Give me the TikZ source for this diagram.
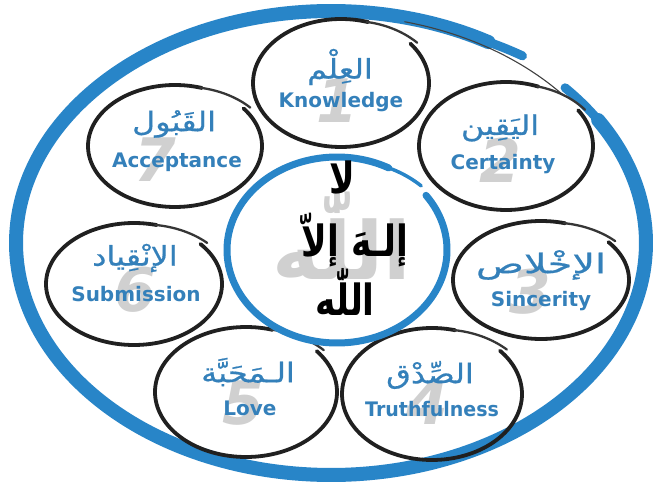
\documentclass[tikz,border=0pt]{standalone}
\usepackage{fontspec}
\TeXXeTstate=1
\newfontfamily\arabicfont[Script=Arabic, FakeStretch=1.18, FakeBold=0.6]{DejaVu Sans}
\newfontfamily\corefont[Script=Arabic, FakeStretch=0.8]{DejaVu Sans}
\newfontfamily\ghostfont[Script=Arabic]{DejaVu Sans}
\newfontfamily\labelfont{DejaVu Sans}
\definecolor{ringblue}{RGB}{40,133,200}
\definecolor{textblue}{RGB}{52,128,186}
\definecolor{numgray}{RGB}{208,208,208}
\definecolor{inkblack}{RGB}{32,32,32}
% cx cy rx ry tailstart tailjoin end flare styleprefix
\newcommand\brushring[9]{%
  \draw[#9 main] plot[domain=#6:#7, samples=120, smooth]
    ({#1+#3*cos(\x)},{#2-#4*sin(\x)});
  \draw[#9 tail] plot[domain=#5:#6+1, samples=25, smooth]
    ({#1+#3*(1+#8*(#6-\x)/(#6-#5))*cos(\x)},{#2-#4*(1+#8*(#6-\x)/(#6-#5))*sin(\x)});
}
\tikzset{
  en/.style={font=\labelfont\bfseries\fontsize{20}{23}\selectfont, text=textblue,
             text height=14.5pt, text depth=4pt, inner sep=0pt},
  ar/.style={font=\arabicfont\fontsize{27}{30}\selectfont, text=textblue, inner sep=0pt},
  num/.style={font=\labelfont\bfseries\itshape\fontsize{60}{60}\selectfont, text=numgray, inner sep=0pt},
  core/.style={font=\corefont\bfseries\fontsize{43}{45}\selectfont, text=black, inner sep=0pt},
  ghost/.style={font=\ghostfont\bfseries\fontsize{80}{80}\selectfont, text=numgray, inner sep=0pt},
  ring main/.style={draw=inkblack, line width=3.8pt, line cap=round},
  ring tail/.style={draw=inkblack!90, line width=2.3pt, line cap=round},
  core main/.style={draw=ringblue, line width=7pt, line cap=round},
  core tail/.style={draw=ringblue, line width=3.5pt, line cap=round},
  outer main/.style={draw=ringblue, line width=14pt, line cap=round},
  outer tail/.style={draw=ringblue, line width=9pt, line cap=round},
  thinline/.style={draw=inkblack!85, line width=1.1pt, line cap=round}
}
\begin{document}
\begin{tikzpicture}[x=1pt, y=-1pt]
\useasboundingbox (0,0) rectangle (661,497);
\fill[white] (0,0) rectangle (661,497);
% outer ring
\brushring{331}{243}{315}{232}{53}{60}{392}{0.01}{outer}
\draw[outer tail] plot[domain=391:402, samples=15, smooth] ({331+315*cos(\x)},{243-232*sin(\x)});
\draw[thinline] plot[domain=40:76, samples=30, smooth] ({331+305*cos(\x)},{243-228*sin(\x)});
% ghost numbers
\node[num] (n1) at (337,101) {1};
\node[num] (n7) at (155,160) {7};
\node[num] (n2) at (500,160) {2};
\node[num] (n6) at (135,290) {6};
\node[num] (n3) at (530,292) {3};
\node[num] (n5) at (243,403) {5};
\node[num] (n4) at (427,403) {4};
\node[ghost] (gh) at (342,235) {\beginR اللّٰه\endR};
% rings
\brushring{341}{83}{88}{64}{36}{72}{398}{0.07}{ring}
\brushring{175}{146}{87}{61}{36}{72}{398}{0.07}{ring}
\brushring{506}{146}{87}{64}{32}{68}{394}{0.07}{ring}
\brushring{134}{284}{88}{61}{39}{75}{401}{0.07}{ring}
\brushring{541}{280}{88}{59}{38}{74}{400}{0.07}{ring}
\brushring{246}{392}{91}{65}{37}{73}{399}{0.07}{ring}
\brushring{432}{394}{90}{66}{39}{75}{401}{0.07}{ring}
\brushring{337}{250}{110}{93}{42}{62}{396}{0.03}{core}
% labels
\node[ar] (a1) at (340,67) {\beginR العِلْم\endR};
\node[en] (e1) at (341,102) {Knowledge};
\node[ar] (a7) at (174,124) {\beginR القَبُول\endR};
\node[en] (e7) at (177,162) {Acceptance};
\node[ar] (a2) at (500,128) {\beginR اليَقِين\endR};
\node[en] (e2) at (503,164) {Certainty};
\node[ar] (a6) at (135,258) {\beginR الإنْقِياد\endR};
\node[en] (e6) at (136,296) {Submission};
\node[ar] (a3) at (541,265) {\scalebox{1.25}[1]{\beginR الإخْلاص\endR}};
\node[en] (e3) at (541,301) {Sincerity};
\node[ar] (a5) at (248,372) {\beginR الـمَحَبَّة\endR};
\node[en] (e5) at (250,410) {Love};
\node[ar] (a4) at (430,375) {\beginR الصِّدْق\endR};
\node[en] (e4) at (432,411) {\scalebox{0.95}[1]{Truthfulness}};
% centre
\node[core] (c1) at (342,177) {\beginR لا\endR};
\node[core] (c2) at (355,240) {\beginR إلـهَ إلاّ\endR};
\node[core] (c3) at (345,292) {\beginR اللّٰه\endR};
\end{tikzpicture}
\end{document}
